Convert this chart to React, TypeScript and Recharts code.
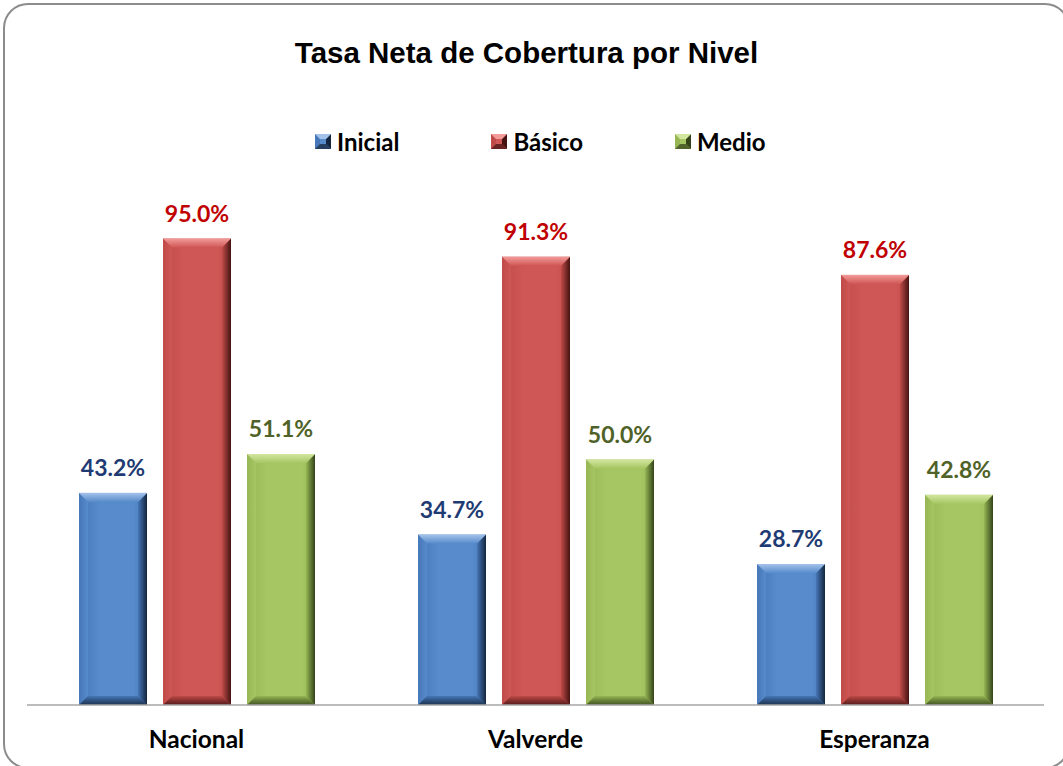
import React from "react";
import { BarChart, Bar, XAxis, YAxis, Legend, LabelList } from "recharts";

const categories = ["Nacional", "Valverde", "Esperanza"];
const inicial = [43.2, 34.7, 28.7];
const basico = [95.0, 91.3, 87.6];
const medio = [51.1, 50.0, 42.8];

const seriesInfo = [
  { key: "inicial", name: "Inicial", base: "#578BCB", light: "#A3C2EA", side: "#4677B8", dark: "#14263E", label: "#1F3B73" },
  { key: "basico", name: "Básico", base: "#CF5755", light: "#F29B99", side: "#BF4B49", dark: "#451311", label: "#C00000" },
  { key: "medio", name: "Medio", base: "#A5C662", light: "#D3E6A0", side: "#96B754", dark: "#34431A", label: "#4F6228" },
];

const data = categories.map((c, i) => ({
  name: c,
  inicial: inicial[i],
  basico: basico[i],
  medio: medio[i],
}));

const FONT = "Lato, 'Open Sans', sans-serif";

function bevelShape(key: string, b: number) {
  return (props: any) => {
    const { x, y, width: w, height: h } = props;
    if (!w || !h || h <= 0) return <g />;
    const bb = Math.min(b, w / 2, h / 2);
    const pts = (arr: number[][]) => arr.map((p) => p.join(",")).join(" ");
    return (
      <g>
        <rect x={x} y={y} width={w} height={h} fill={`url(#face-${key})`} />
        <polygon points={pts([[x, y], [x + bb, y + bb], [x + bb, y + h - bb], [x, y + h]])} fill={`url(#left-${key})`} />
        <polygon points={pts([[x + w, y], [x + w, y + h], [x + w - bb, y + h - bb], [x + w - bb, y + bb]])} fill={`url(#right-${key})`} />
        <polygon points={pts([[x, y + h], [x + w, y + h], [x + w - bb, y + h - bb], [x + bb, y + h - bb]])} fill={`url(#bottom-${key})`} />
        <polygon points={pts([[x, y], [x + w, y], [x + w - bb, y + bb], [x + bb, y + bb]])} fill={`url(#top-${key})`} />
      </g>
    );
  };
}

function LegendMarker({ s }: { s: (typeof seriesInfo)[number] }) {
  const b = 5;
  const w = 16;
  const h = 15;
  return (
    <svg width={w} height={h} style={{ display: "block" }}>
      <rect x={0} y={0} width={w} height={h} fill={s.base} />
      <polygon points={`0,0 ${b},${b} ${b},${h - b} 0,${h}`} fill={s.side} />
      <polygon points={`${w},0 ${w},${h} ${w - b},${h - b} ${w - b},${b}`} fill={s.dark} />
      <polygon points={`0,${h} ${w},${h} ${w - b},${h - b} ${b},${h - b}`} fill={s.dark} opacity={0.75} />
      <polygon points={`0,0 ${w},0 ${w - b},${b} ${b},${b}`} fill={s.light} />
    </svg>
  );
}

function renderLegend() {
  return (
    <div style={{ display: "flex", alignItems: "center", gap: 92, height: 30 }}>
      {seriesInfo.map((s) => (
        <div key={s.key} style={{ display: "flex", alignItems: "center", gap: 6 }}>
          <LegendMarker s={s} />
          <span style={{ fontFamily: FONT, fontWeight: 700, fontSize: 24, color: "#000" }}>{s.name}</span>
        </div>
      ))}
    </div>
  );
}

export default function App() {
  return (
    <div style={{ position: "fixed", left: 0, top: 0, width: 1063, height: 766, overflow: "hidden", background: "#fff" }}>
      <div
        style={{
          position: "absolute",
          left: 3,
          top: 3,
          width: 1067,
          height: 766,
          border: "2px solid #8c8c8c",
          borderRadius: 25,
          boxSizing: "border-box",
        }}
      />
      <div
        style={{
          position: "absolute",
          left: 0,
          top: 38,
          width: 1053,
          textAlign: "center",
          fontFamily: "'Liberation Sans', Arial, sans-serif",
          fontWeight: 700,
          fontSize: 29.5,
          lineHeight: "29px",
          color: "#000",
        }}
      >
        Tasa Neta de Cobertura por Nivel
      </div>
      <BarChart
        width={1063}
        height={766}
        data={data}
        margin={{ top: 214, right: 19, bottom: 0, left: 27 }}
        barSize={68}
        barGap={16}
        style={{ position: "absolute", left: 0, top: 0 }}
      >
        <defs>
          {seriesInfo.map((s) => (
            <React.Fragment key={s.key}>
              <linearGradient id={`face-${s.key}`} x1="0" y1="0" x2="1" y2="0">
                <stop offset="0" stopColor={s.side} />
                <stop offset="0.3" stopColor={s.base} />
                <stop offset="0.8" stopColor={s.base} />
                <stop offset="1" stopColor={s.side} />
              </linearGradient>
              <linearGradient id={`left-${s.key}`} x1="0" y1="0" x2="1" y2="0">
                <stop offset="0" stopColor={s.side} />
                <stop offset="1" stopColor={s.base} />
              </linearGradient>
              <linearGradient id={`right-${s.key}`} x1="0" y1="0" x2="1" y2="0">
                <stop offset="0" stopColor={s.side} />
                <stop offset="1" stopColor={s.dark} />
              </linearGradient>
              <linearGradient id={`bottom-${s.key}`} x1="0" y1="0" x2="0" y2="1">
                <stop offset="0" stopColor={s.side} />
                <stop offset="1" stopColor={s.dark} stopOpacity={0.85} />
              </linearGradient>
              <linearGradient id={`top-${s.key}`} x1="0" y1="0" x2="0" y2="1">
                <stop offset="0" stopColor={s.light} />
                <stop offset="1" stopColor={s.base} />
              </linearGradient>
            </React.Fragment>
          ))}
        </defs>
        <XAxis
          dataKey="name"
          axisLine={{ stroke: "#a6a6a6", strokeWidth: 1.5 }}
          tickLine={false}
          tickSize={0}
          tickMargin={26}
          height={61}
          interval={0}
          tick={{ fill: "#000", fontFamily: FONT, fontWeight: 700, fontSize: 24.5 }}
        />
        <YAxis hide domain={[0, 100]} />
        <Legend
          layout="horizontal"
          verticalAlign="middle"
          align="center"
          content={renderLegend}
          wrapperStyle={{ top: 126, left: 315, width: 600 }}
        />
        {seriesInfo.map((s) => (
          <Bar
            key={s.key}
            dataKey={s.key}
            name={s.name}
            fill={s.base}
            isAnimationActive={false}
            shape={bevelShape(s.key, 9)}
          >
            <LabelList
              dataKey={s.key}
              position="top"
              offset={17}
              formatter={(v: any) => `${Number(v).toFixed(1)}%`}
              style={{ fill: s.label, fontFamily: FONT, fontWeight: 700, fontSize: 23 }}
            />
          </Bar>
        ))}
      </BarChart>
    </div>
  );
}
